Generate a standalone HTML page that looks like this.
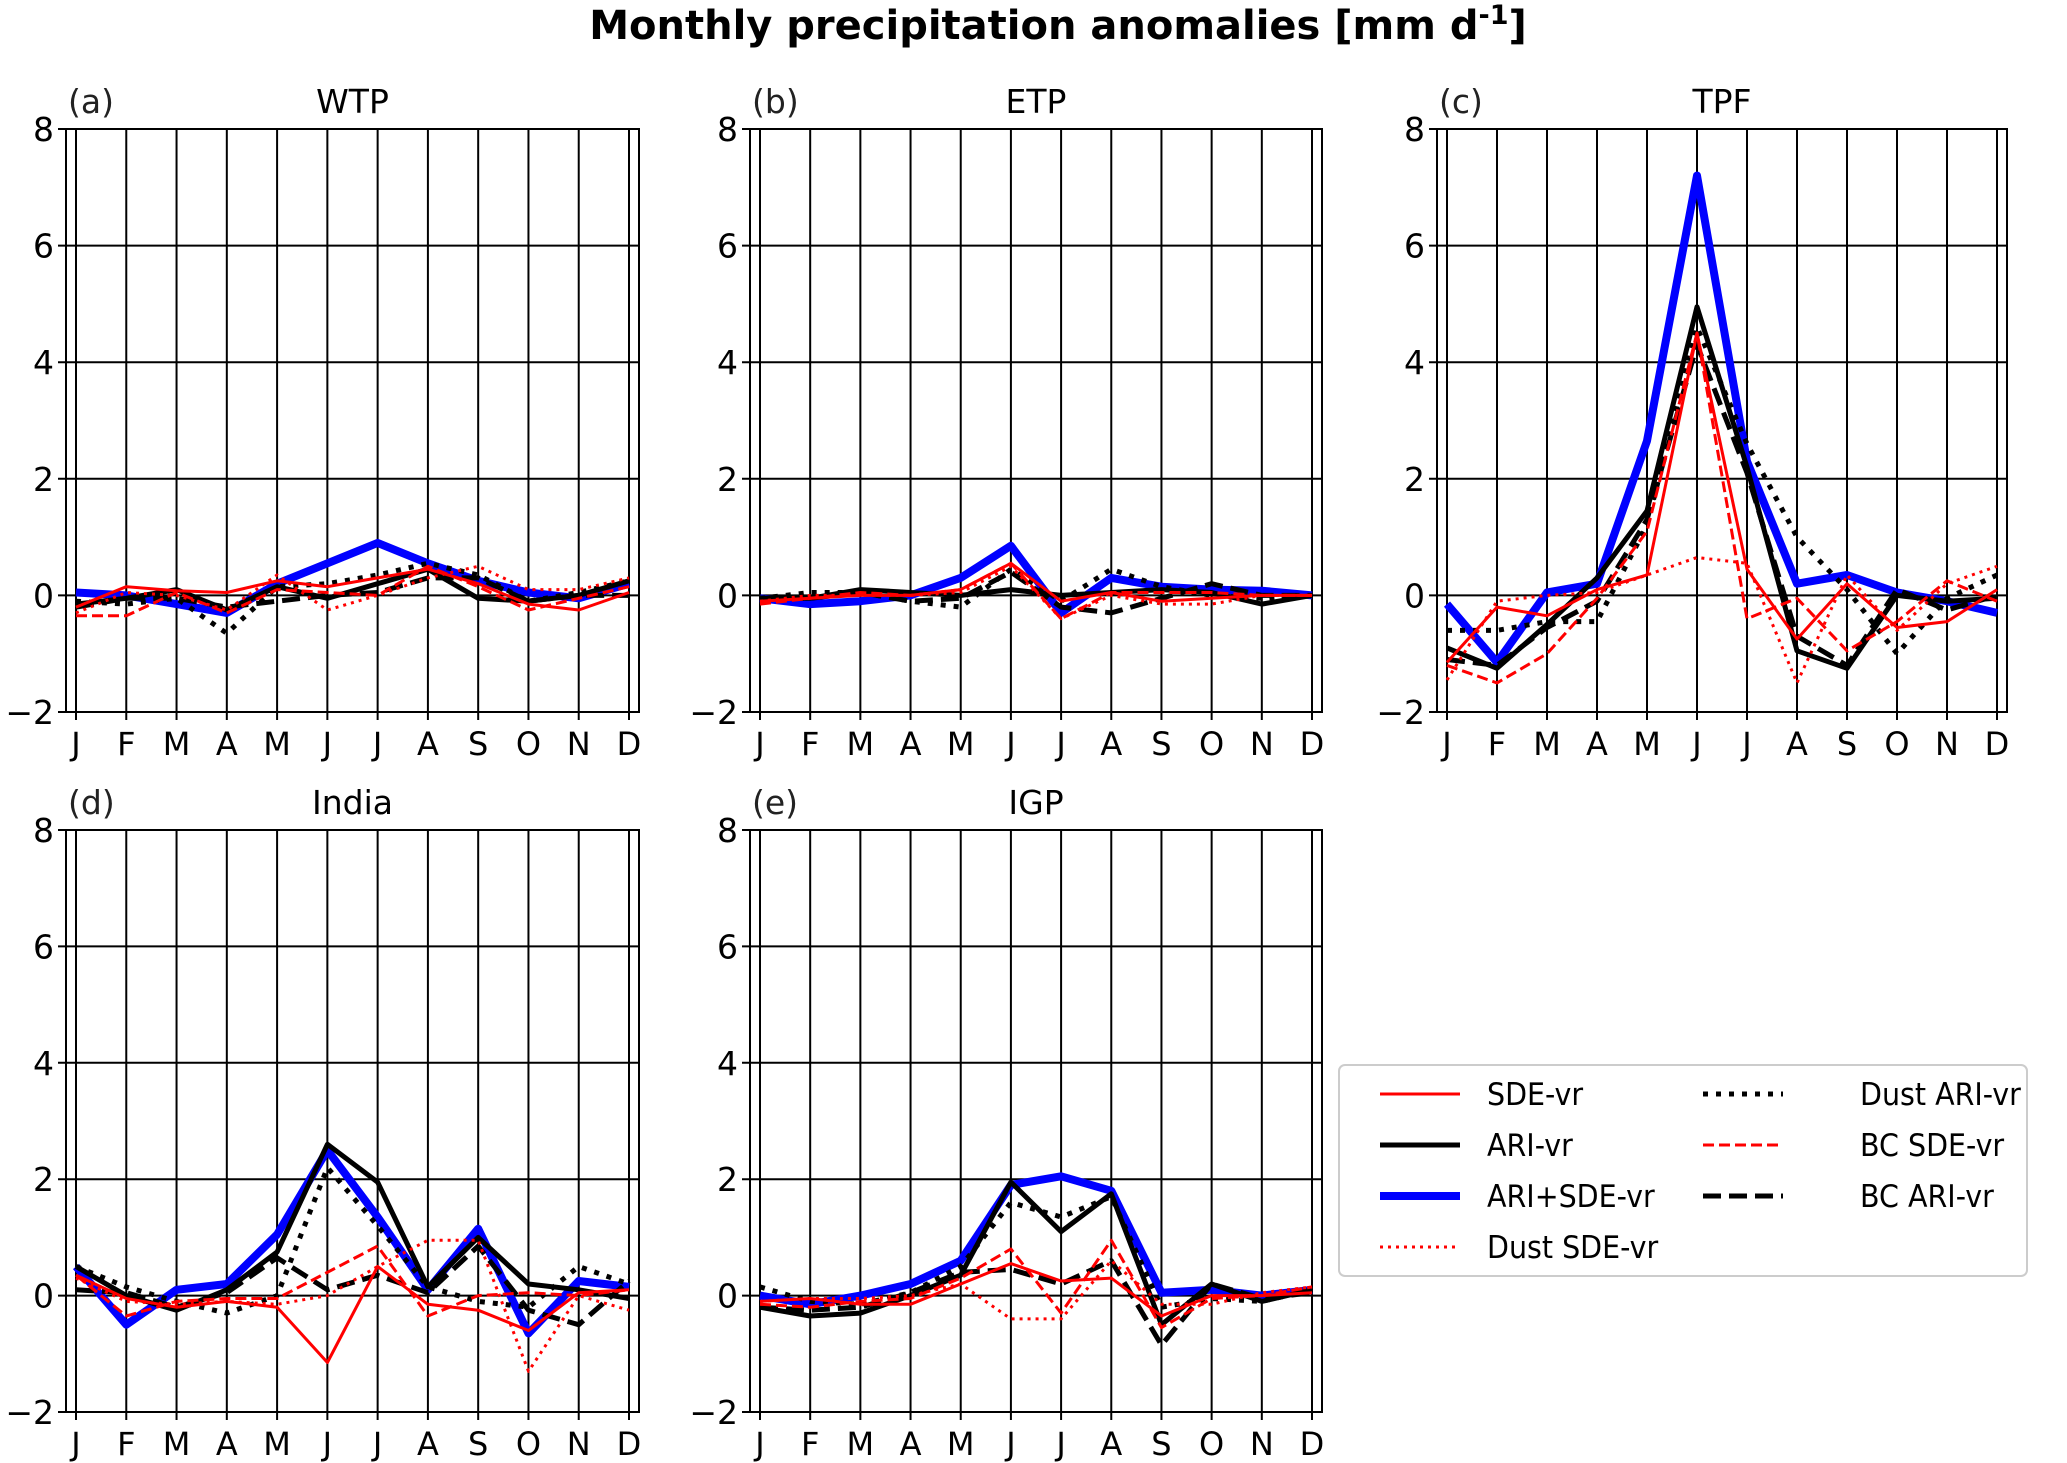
<!DOCTYPE html>
<html><head><meta charset="utf-8"><style>
html,body{margin:0;padding:0;background:#fff;}
svg{display:block;font-family:"DejaVu Sans","Liberation Sans",sans-serif;}
</style></head>
<body>
<svg id="fig" width="2067" height="1463" viewBox="0 0 2067 1463" xmlns="http://www.w3.org/2000/svg">
<rect width="2067" height="1463" fill="#fff"/>
<text x="1058" y="39" text-anchor="middle" font-size="40" font-weight="bold">Monthly precipitation anomalies [mm d<tspan dy="-15" font-size="27">-1</tspan><tspan dy="15">]</tspan></text>
<g id="panels"></g>
<g id="legend"></g>
</svg>
<script>
const months = ["J","F","M","A","M","J","J","A","S","O","N","D"];
const yTicks = [-2, 0, 2, 4, 6, 8];
const panelNames = ["WTP","ETP","TPF","India","IGP"];
const panelLetters = ["(a)","(b)","(c)","(d)","(e)"];
const seriesNames = ["SDE-vr","ARI-vr","ARI+SDE-vr","Dust SDE-vr","Dust ARI-vr","BC SDE-vr","BC ARI-vr"];

const wtpSDE = [-0.2,0.15,0.08,0.05,0.25,0.15,0.3,0.45,0.2,-0.15,-0.25,0.05];
const wtpARI = [-0.15,-0.05,0.1,-0.25,0.15,-0.05,0.2,0.45,-0.05,-0.1,0.0,0.25];
const wtpBoth = [0.05,0.0,-0.15,-0.3,0.2,0.55,0.9,0.55,0.25,0.05,-0.05,0.2];
const wtpDustSDE = [-0.3,0.05,0.0,-0.25,0.35,-0.25,0.0,0.3,0.5,0.1,0.1,0.3];
const wtpDustARI = [-0.1,-0.15,-0.05,-0.65,0.15,0.2,0.35,0.55,0.35,-0.1,0.05,0.25];
const wtpBCSDE = [-0.35,-0.35,0.05,-0.3,0.1,0.05,0.0,0.5,0.15,-0.25,-0.05,0.15];
const wtpBCARI = [-0.2,-0.05,-0.05,-0.2,-0.1,0.0,0.05,0.3,0.3,-0.1,0.0,0.0];

const etpSDE = [-0.1,-0.05,0.0,0.0,0.1,0.55,-0.1,0.05,-0.1,-0.05,0.0,0.0];
const etpARI = [-0.05,-0.05,0.1,0.05,0.0,0.1,0.0,0.05,0.1,0.05,-0.15,0.0];
const etpBoth = [-0.05,-0.15,-0.1,0.0,0.3,0.85,-0.3,0.3,0.15,0.1,0.08,0.0];
const etpDustSDE = [-0.1,0.0,0.0,0.0,0.05,0.5,-0.4,0.0,-0.15,-0.15,0.0,0.0];
const etpDustARI = [-0.05,0.05,0.05,-0.1,-0.2,0.45,-0.1,0.45,0.15,0.0,-0.05,0.0];
const etpBCSDE = [-0.15,-0.05,0.05,0.0,0.1,0.55,-0.4,0.05,0.05,0.05,0.0,0.0];
const etpBCARI = [-0.05,-0.05,0.05,-0.1,-0.05,0.4,-0.2,-0.3,-0.05,0.2,0.0,0.0];

const tpfSDE = [-1.15,-0.2,-0.35,0.1,0.35,4.5,0.45,-0.75,0.2,-0.55,-0.45,0.1];
const tpfARI = [-0.9,-1.25,-0.5,0.3,1.45,4.95,2.2,-0.95,-1.25,0.0,-0.1,-0.05];
const tpfBoth = [-0.15,-1.15,0.05,0.2,2.65,7.2,2.3,0.2,0.35,0.05,-0.1,-0.3];
const tpfDustSDE = [-1.45,-0.1,0.0,0.05,0.35,0.65,0.55,-1.5,0.35,-0.6,0.2,0.5];
const tpfDustARI = [-0.6,-0.6,-0.45,-0.45,1.2,4.6,2.6,1.0,0.1,-1.0,-0.05,0.35];
const tpfBCSDE = [-1.2,-1.5,-1.0,-0.05,1.1,4.5,-0.4,-0.05,-0.95,-0.45,0.25,-0.1];
const tpfBCARI = [-1.1,-1.2,-0.55,-0.1,1.3,4.3,2.1,-0.7,-1.2,0.1,-0.25,0.0];

const indSDE = [0.35,-0.05,-0.2,-0.1,-0.2,-1.15,0.5,-0.15,-0.25,-0.6,0.05,0.1];
const indARI = [0.5,0.0,-0.25,0.1,0.75,2.6,1.95,0.15,1.0,0.2,0.1,-0.05];
const indBoth = [0.5,-0.5,0.1,0.2,1.05,2.5,1.35,0.1,1.15,-0.65,0.25,0.15];
const indDustSDE = [0.3,-0.1,-0.15,-0.1,-0.15,0.0,0.5,0.95,0.95,-1.3,0.0,-0.25];
const indDustARI = [0.5,0.15,-0.1,-0.3,0.0,2.2,1.2,0.15,-0.1,-0.2,0.5,0.2];
const indBCSDE = [0.35,-0.35,-0.1,-0.05,-0.05,0.4,0.85,-0.35,0.0,0.05,0.0,0.1];
const indBCARI = [0.1,0.05,-0.2,0.05,0.65,0.1,0.35,0.05,0.85,-0.25,-0.5,0.25];

const igpSDE = [-0.1,-0.05,-0.15,-0.15,0.2,0.55,0.25,0.3,-0.35,0.0,0.0,0.05];
const igpARI = [-0.2,-0.35,-0.3,0.0,0.35,1.95,1.1,1.75,-0.5,0.2,-0.1,0.1];
const igpBoth = [0.0,-0.15,0.0,0.2,0.6,1.9,2.05,1.8,0.05,0.1,0.0,0.1];
const igpDustSDE = [-0.1,-0.05,-0.05,0.0,0.2,-0.4,-0.4,0.6,-0.15,-0.15,0.05,0.15];
const igpDustARI = [0.15,-0.1,-0.15,0.05,0.5,1.6,1.35,1.7,-0.2,-0.05,-0.1,0.1];
const igpBCSDE = [-0.15,-0.2,-0.1,-0.05,0.3,0.8,-0.3,0.95,-0.55,-0.05,0.0,0.15];
const igpBCARI = [-0.2,-0.25,-0.2,0.05,0.4,0.45,0.2,0.6,-0.85,0.2,-0.05,0.05];

const panelData = [
 [wtpSDE,wtpARI,wtpBoth,wtpDustSDE,wtpDustARI,wtpBCSDE,wtpBCARI],
 [etpSDE,etpARI,etpBoth,etpDustSDE,etpDustARI,etpBCSDE,etpBCARI],
 [tpfSDE,tpfARI,tpfBoth,tpfDustSDE,tpfDustARI,tpfBCSDE,tpfBCARI],
 [indSDE,indARI,indBoth,indDustSDE,indDustARI,indBCSDE,indBCARI],
 [igpSDE,igpARI,igpBoth,igpDustSDE,igpDustARI,igpBCSDE,igpBCARI]
];

const NS = "http://www.w3.org/2000/svg";
const styles = [
 {c:"#ff0000", w:3, d:""},
 {c:"#000000", w:5, d:""},
 {c:"#0000ff", w:8, d:""},
 {c:"#ff0000", w:3, d:"3,5"},
 {c:"#000000", w:5, d:"5,8"},
 {c:"#ff0000", w:3, d:"11,5"},
 {c:"#000000", w:5, d:"18,8"}
];
const boxes = [
 {l:66,r:639,t:129,b:712},
 {l:750,r:1322,t:129,b:712},
 {l:1437,r:2007,t:129,b:712},
 {l:66,r:639,t:830,b:1412},
 {l:750,r:1322,t:830,b:1412}
];
function mk(tag, attrs, parent){
  const e = document.createElementNS(NS, tag);
  for (const k in attrs) e.setAttribute(k, attrs[k]);
  parent.appendChild(e);
  return e;
}
const root = document.getElementById("panels");
boxes.forEach((bx, p) => {
  const g = mk("g", {}, root);
  
  
  const x0 = bx.l + 10, x1 = bx.r - 10;
  const xs = i => x0 + (x1 - x0) * i / 11;
  const ys = v => bx.b - (v + 2) / 10 * (bx.b - bx.t);
  months.forEach((m, i) => {
    const ln = mk("line", {x1:xs(i), x2:xs(i), y1:bx.t, y2:bx.b + 8, stroke:"#000", "stroke-width":2}, g);
    
    
    const tx = mk("text", {x:xs(i), y:bx.b + 43, "text-anchor":"middle", "font-size":32}, g);
    
    
    tx.textContent = m;
  });
  yTicks.forEach(v => {
    const ln = mk("line", {x1:bx.l - 8, x2:bx.r, y1:ys(v), y2:ys(v), stroke:"#000", "stroke-width":2}, g);
    
    
    const tx = mk("text", {x:bx.l - 12, y:ys(v) + 12, "text-anchor":"end", "font-size":33}, g);
    
    
    tx.textContent = v < 0 ? "\u2212" + Math.abs(v) : String(v);
  });
  const frame = mk("rect", {x:bx.l, y:bx.t, width:bx.r - bx.l, height:bx.b - bx.t, fill:"none", stroke:"#000", "stroke-width":2}, g);
  
  
  const ti = mk("text", {x:(bx.l + bx.r) / 2, y:bx.t - 16, "text-anchor":"middle", "font-size":33}, g);
  
  
  ti.textContent = panelNames[p];
  const lt = mk("text", {x:bx.l + 2, y:bx.t - 16, "font-size":33, fill:"#222"}, g);
  
  
  lt.textContent = panelLetters[p];
  const order = [2, 1, 4, 6, 0, 3, 5];
  order.forEach(s => {
    const vals = panelData[p][s];
    const pts = vals.map((v, i) => xs(i).toFixed(1) + "," + ys(v).toFixed(1)).join(" ");
    const st = styles[s];
    const pl = mk("polyline", {points:pts, fill:"none", stroke:st.c, "stroke-width":st.w, "stroke-linejoin":"round"}, g);
    if (st.d) pl.setAttribute("stroke-dasharray", st.d);
    
    
  });
});
const lg = document.getElementById("legend");
const lb = mk("rect", {x:1339, y:1065, width:688, height:211, rx:6, fill:"#fff", stroke:"#ccc", "stroke-width":2}, lg);


const legPos = [[0,0],[0,1],[0,2],[0,3],[1,0],[1,1],[1,2]];
seriesNames.forEach((n, s) => {
  const [col, row] = legPos[s];
  const lx = col ? 1703 : 1380, tx = col ? 1860 : 1487;
  const y = 1094 + row * 51;
  const st = styles[s];
  const ln = mk("line", {x1:lx, x2:lx + 80, y1:y, y2:y, stroke:st.c, "stroke-width":st.w}, lg);
  if (st.d) ln.setAttribute("stroke-dasharray", st.d);
  
  
  const t = mk("text", {x:tx, y:y + 11, "font-size":31, textLength: 0}, lg);
  t.removeAttribute("textLength");
  t.setAttribute("transform", "translate(" + tx + " 0) scale(0.92 1) translate(" + (-tx) + " 0)");
  
  
  t.textContent = n;
});
</script>
</body></html>
